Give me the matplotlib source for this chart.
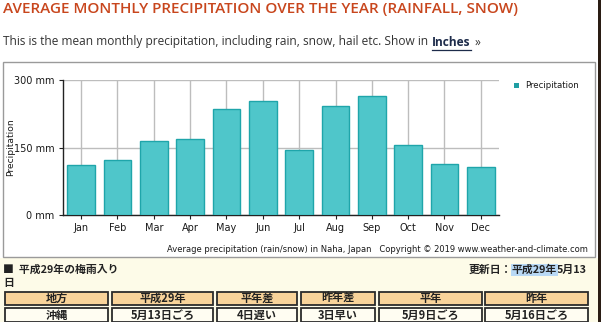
import matplotlib
matplotlib.use("Agg")
import matplotlib.pyplot as plt
from matplotlib.patches import Rectangle, Patch
from matplotlib.lines import Line2D

# data (mm)
months = ["Jan", "Feb", "Mar", "Apr", "May", "Jun", "Jul", "Aug", "Sep", "Oct", "Nov", "Dec"]
precip_mm = [111, 123, 165, 169, 235, 253, 144, 242, 264, 155, 113, 106]
y_ticks = [0, 150, 300]

# table below the chart
table_header = ["地方", "平成29年", "平年差", "昨年差", "平年", "昨年"]
table_row = ["沖縄", "5月13日ごろ", "4日遅い", "3日早い", "5月9日ごろ", "5月16日ごろ"]

W, H = 601, 322
JP = ["Noto Sans CJK JP", "DejaVu Sans"]


def fx(x):
    return x / W


def fy(y):
    return 1 - y / H


fig = plt.figure(figsize=(W / 100, H / 100), dpi=100)
fig.patch.set_facecolor("white")

# page backgrounds
fig.patches.append(Rectangle((0, 0), 1, fy(258), transform=fig.transFigure,
                             facecolor="#fdfbe8", edgecolor="none", zorder=0))
fig.patches.append(Rectangle((fx(598), 0), fx(3), 1, transform=fig.transFigure,
                             facecolor="#2a1d14", edgecolor="none", zorder=5))
# chart frame
fig.patches.append(Rectangle((fx(3), fy(257)), fx(592), 195 / H, transform=fig.transFigure,
                             facecolor="white", edgecolor="#9a9a9a", lw=1.0, zorder=1))

# heading texts
fig.text(fx(3), fy(9), "AVERAGE MONTHLY PRECIPITATION OVER THE YEAR (RAINFALL, SNOW)",
         family="Open Sans", weight="semibold", fontsize=11.0, color="#c8461d",
         va="center", ha="left")

fig.canvas.draw()
r = fig.canvas.get_renderer()
t1 = fig.text(fx(3), fy(42), "This is the mean monthly precipitation, including rain, snow, hail etc. Show in",
              family="Open Sans", fontsize=8.6, color="#333333", va="center", ha="left")
x1 = t1.get_window_extent(r).x1 + 4
t2 = fig.text(x1 / W, fy(42), "Inches", family="Open Sans", weight="bold", fontsize=8.6,
              color="#1d2b4a", va="center", ha="left")
bb = t2.get_window_extent(r)
fig.lines.append(Line2D([bb.x0 / W, bb.x1 / W], [fy(50), fy(50)], transform=fig.transFigure,
                        color="#1d2b4a", lw=0.9))
fig.text((bb.x1 + 4) / W, fy(42), "»", family="Open Sans", fontsize=8.6, color="#333333",
         va="center", ha="left")

# chart
ax = fig.add_axes([fx(63), fy(215), 436 / W, 135 / H])
ax.set_zorder(3)
ax.patch.set_alpha(0)
x = list(range(len(months)))
ax.bar(x, precip_mm, width=0.77, color="#4fc6ca", edgecolor="#1fa5aa", lw=1.0, zorder=3)
ax.set_xlim(-0.5, len(months) - 0.5)
ax.set_ylim(0, 300)
ax.set_yticks(y_ticks)
ax.set_yticklabels([f"{v} mm" for v in y_ticks])
ax.set_xticks(x)
ax.set_xticklabels(months)
ax.grid(True, color="#bdbdbd", lw=1.0, zorder=0)
ax.set_axisbelow(True)
for s in ["top", "right"]:
    ax.spines[s].set_visible(False)
ax.spines["left"].set_color("#222222")
ax.spines["bottom"].set_color("#222222")
ax.spines["left"].set_linewidth(1.0)
ax.spines["bottom"].set_linewidth(1.0)
ax.tick_params(axis="both", labelsize=7, length=3, width=0.8, color="#222222",
               labelcolor="#1a1a1a", pad=3)
ax.set_ylabel("Precipitation", fontsize=6.6, color="#1a1a1a", labelpad=8)
ax.yaxis.set_label_coords(-0.110, 0.5)

leg = fig.legend(handles=[Patch(facecolor="#1f9ea3", edgecolor="none", label="Precipitation")],
                 loc="center left", bbox_to_anchor=(fx(510), fy(86)), frameon=False,
                 fontsize=6.2, handlelength=0.5, handleheight=0.5, handletextpad=0.7,
                 borderpad=0, labelcolor="#1a1a1a")
leg.set_zorder(4)

fig.text(fx(588), fy(250), "Average precipitation (rain/snow) in Naha, Japan   Copyright © 2019 www.weather-and-climate.com",
         fontsize=6.0, color="#1a1a1a", ha="right", va="center", zorder=4)

# lower section
fs_jp = 7.8
fig.text(fx(3), fy(270), "■  平成29年の梅雨入り", family=JP, weight="bold", fontsize=fs_jp,
         color="#222222", ha="left", va="center")
fig.text(fx(3), fy(283), "日", family=JP, weight="bold", fontsize=fs_jp,
         color="#222222", ha="left", va="center")
tr = fig.text(fx(587), fy(270), "5月13", family=JP, weight="bold", fontsize=fs_jp,
              color="#222222", ha="right", va="center")
bx = tr.get_window_extent(r).x0
th = fig.text(bx / W, fy(270), "平成29年", family=JP, weight="bold", fontsize=fs_jp,
              color="#222222", ha="right", va="center",
              bbox=dict(facecolor="#b9d9f5", edgecolor="none", pad=0.6))
bx = th.get_window_extent(r).x0
fig.text(bx / W, fy(270), "更新日：", family=JP, weight="bold", fontsize=fs_jp,
         color="#222222", ha="right", va="center")

col_x0 = [5, 112, 217, 301, 379, 485]
col_x1 = [108, 213, 297, 375, 482, 588]
rows = [(table_header, 292, 305, "#f8d39a"), (table_row, 308, 322, "#fffdf2")]
for labels, y0, y1, fc in rows:
    for lab, a, b in zip(labels, col_x0, col_x1):
        fig.patches.append(Rectangle((fx(a), fy(y1)), (b - a) / W, (y1 - y0) / H,
                                     transform=fig.transFigure, facecolor=fc,
                                     edgecolor="#2b2b2b", lw=1.3, zorder=2))
        fig.text(fx((a + b) / 2), fy((y0 + y1) / 2), lab, family=JP, weight="bold",
                 fontsize=8.0, color="#222222", ha="center", va="center", zorder=3)

fig.savefig("out.png", dpi=100)
